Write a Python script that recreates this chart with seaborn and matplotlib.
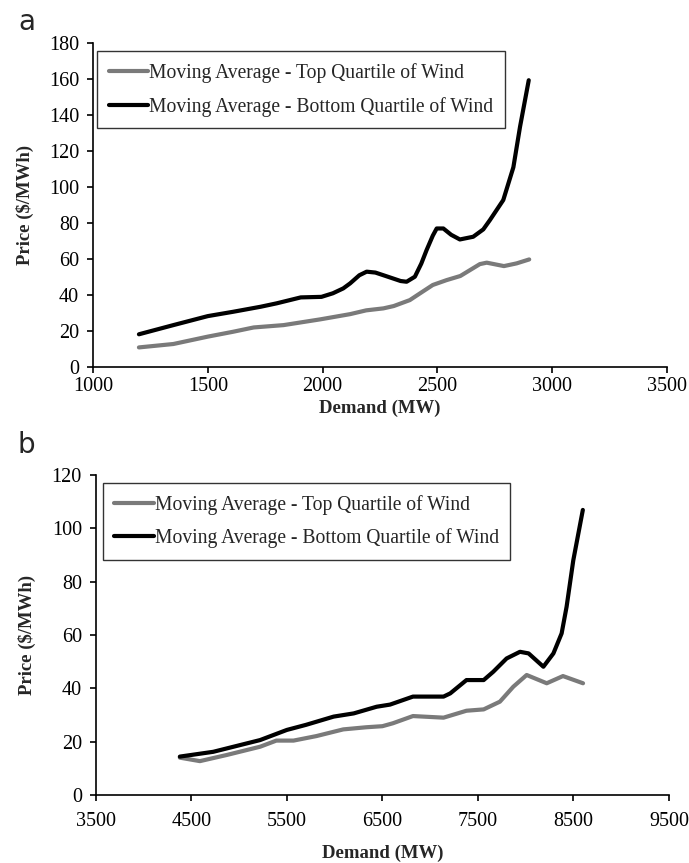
import numpy as np
import pandas as pd
import matplotlib
matplotlib.use("Agg")
import matplotlib.pyplot as plt
import seaborn as sns

sns.set_theme(style="white")
plt.rcParams['font.family'] = ['Liberation Serif', 'DejaVu Serif']

# Panel a data
a_top_x = [1200, 1350, 1500, 1610, 1700, 1830, 1990, 2120, 2190, 2265, 2310, 2380, 2425, 2480, 2540, 2600, 2685, 2715, 2790, 2845, 2900]
a_top_y = [10.9, 12.8, 16.9, 19.6, 22.0, 23.3, 26.5, 29.4, 31.5, 32.6, 33.9, 37.2, 41.0, 45.6, 48.3, 50.6, 57.2, 58.0, 56.1, 57.6, 59.8]
a_bot_x = [1200, 1350, 1500, 1610, 1730, 1800, 1905, 1995, 2045, 2090, 2120, 2160, 2192, 2230, 2270, 2340, 2366, 2402, 2430, 2453, 2480, 2497, 2526, 2560, 2598, 2656, 2700, 2729, 2787, 2831, 2860, 2898]
a_bot_y = [18.2, 23.3, 28.3, 30.7, 33.5, 35.4, 38.7, 39.0, 41.0, 43.7, 46.5, 51.0, 53.0, 52.5, 50.8, 47.8, 47.4, 50.2, 57.5, 65.0, 73.0, 77.0, 77.0, 73.5, 70.9, 72.4, 76.5, 81.7, 92.8, 111.0, 133.5, 159.4]

# Panel b data
b_top_x = [4380, 4590, 4870, 5220, 5390, 5570, 5810, 6090, 6330, 6500, 6610, 6820, 7140, 7380, 7560, 7730, 7870, 8010, 8220, 8390, 8600]
b_top_y = [14.0, 12.7, 15.0, 18.1, 20.4, 20.4, 22.1, 24.6, 25.4, 25.8, 26.9, 29.6, 29.0, 31.6, 32.1, 35.0, 40.6, 45.0, 41.9, 44.6, 41.9]
b_bot_x = [4380, 4730, 5220, 5500, 5700, 5990, 6200, 6440, 6580, 6820, 7140, 7210, 7380, 7560, 7660, 7800, 7940, 8030, 8185, 8290, 8376, 8428, 8498, 8598]
b_bot_y = [14.4, 16.2, 20.6, 24.4, 26.3, 29.4, 30.6, 33.1, 33.9, 36.9, 36.9, 38.1, 43.1, 43.1, 46.2, 51.2, 53.7, 53.1, 48.1, 53.1, 60.6, 70.6, 88.0, 106.9]

label_top = "Moving Average - Top Quartile of Wind"
label_bot = "Moving Average - Bottom Quartile of Wind"
xlabel = "Demand (MW)"
ylabel = "Price ($/MWh)"

def make_df(tx, ty, bx, by):
    return pd.concat([
        pd.DataFrame({"Demand": tx, "Price": ty, "Series": label_top}),
        pd.DataFrame({"Demand": bx, "Price": by, "Series": label_bot}),
    ], ignore_index=True)

df_a = make_df(a_top_x, a_top_y, a_bot_x, a_bot_y)
df_b = make_df(b_top_x, b_top_y, b_bot_x, b_bot_y)

palette = {label_top: "#7a7a7a", label_bot: "#000000"}

fig = plt.figure(figsize=(6.89, 8.63), dpi=100)
ax_a = fig.add_axes([0.135, 0.5747, 0.833, 0.3753])
ax_b = fig.add_axes([0.139, 0.0788, 0.832, 0.3708])

def style(ax, df, xlim, xticks, ylim, yticks, legend_bbox, xpad, xlabelpad):
    sns.lineplot(data=df, x="Demand", y="Price", hue="Series", palette=palette,
                 linewidth=3.0, ax=ax, sort=False, estimator=None,
                 solid_joinstyle="round", solid_capstyle="round")
    ax.set_xlim(*xlim)
    ax.set_ylim(*ylim)
    ax.set_xticks(xticks)
    ax.set_yticks(yticks)
    for s in ["top", "right"]:
        ax.spines[s].set_visible(False)
    for s in ["left", "bottom"]:
        ax.spines[s].set_color("black")
        ax.spines[s].set_linewidth(1.2)
    ax.tick_params(axis="both", direction="out", length=4, width=1.2, colors="black",
                   labelsize=14.5, left=True, bottom=True)
    ax.tick_params(axis="y", pad=6)
    ax.tick_params(axis="x", pad=xpad)
    ax.set_xlabel(xlabel, fontsize=13.5, fontweight="bold", labelpad=xlabelpad)
    ax.set_ylabel(ylabel, fontsize=13.5, fontweight="bold", labelpad=11)
    leg = ax.legend(loc="upper left", bbox_to_anchor=legend_bbox, fontsize=14.1,
                    frameon=True, fancybox=False, edgecolor="black", handlelength=2.0,
                    handletextpad=0.05, borderpad=0.6, labelspacing=0.7, title=None,
                    borderaxespad=0)
    leg.get_frame().set_linewidth(1.0)
    for line in leg.get_lines():
        line.set_linewidth(3.0)

style(ax_a, df_a, (1000, 3500), [1000, 1500, 2000, 2500, 3000, 3500], (0, 180),
      list(range(0, 181, 20)), (0.007, 0.975), 3, 3)
style(ax_b, df_b, (3500, 9500), [3500, 4500, 5500, 6500, 7500, 8500, 9500], (0, 120),
      list(range(0, 121, 20)), (0.012, 0.975), 8, 10)

fig.text(18/689, 1 - 22/863, "a", fontsize=20, family="DejaVu Sans", va="center", ha="left")
fig.text(18/689, 1 - 445/863, "b", fontsize=20, family="DejaVu Sans", va="center", ha="left")

fig.savefig("out.png", dpi=100)
